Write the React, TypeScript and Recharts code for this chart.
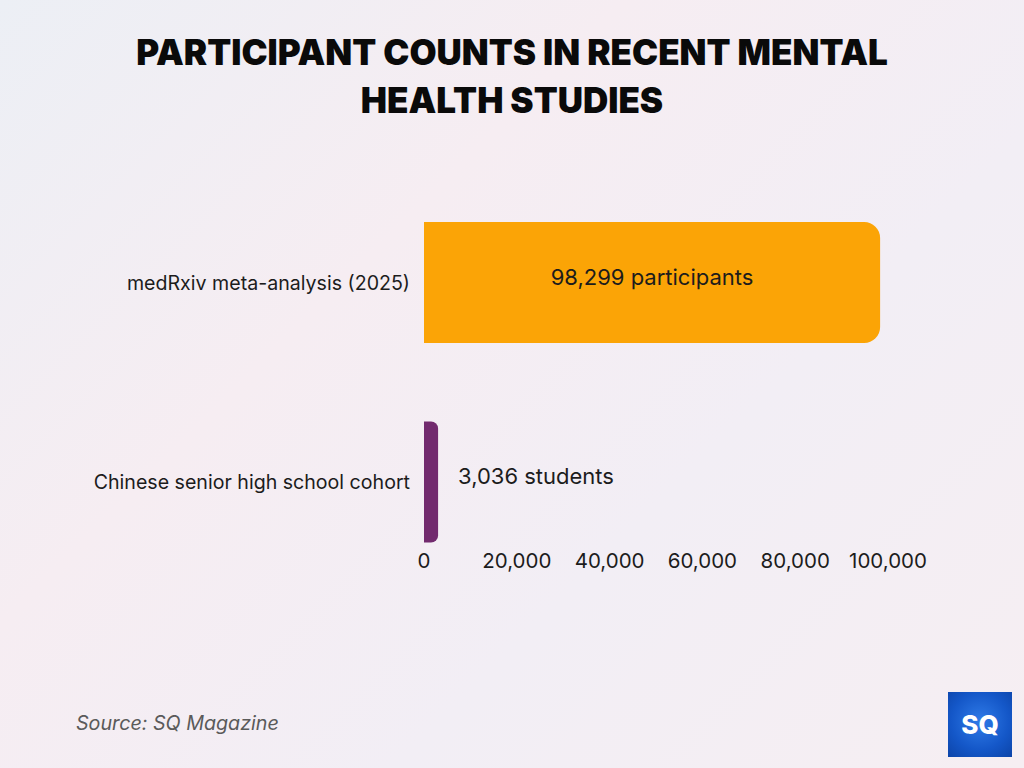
import React from "react"
import { BarChart, Bar, XAxis, YAxis, Cell, LabelList } from "recharts"

const studies = ["medRxiv meta-analysis (2025)", "Chinese senior high school cohort"]
const counts = [98299, 3036]
const units = ["participants", "students"]
const barColors = ["#FBA406", "#722A6E"]
const xTicks = [0, 20000, 40000, 60000, 80000, 100000]

const data = studies.map((name, i) => ({ name, value: counts[i], unit: units[i] }))

const fmt = (v: number) => v.toLocaleString("en-US")

const BODY_FONT = "Inter, 'Open Sans', sans-serif"

const XTick = (props: { x?: number; y?: number; payload?: { value: number } }) => {
  const { x = 0, y = 0, payload } = props
  return (
    <text x={x} y={y - 14} textAnchor="middle" fill="#1c1c1c" fontSize={20.5} fontFamily={BODY_FONT}>
      {fmt(payload?.value ?? 0)}
    </text>
  )
}

const ValueLabel = (props: {
  x?: number
  y?: number
  width?: number
  height?: number
  index?: number
}) => {
  const { x = 0, y = 0, width = 0, height = 0, index = 0 } = props
  const d = data[index]
  const text = `${fmt(d.value)} ${d.unit}`
  // long bars hold their label inside, short ones put it to the right
  const inside = width > 200
  return (
    <text
      x={inside ? x + width / 2 : x + width + 20}
      y={y + height / 2 - 6}
      textAnchor={inside ? "middle" : "start"}
      dominantBaseline="central"
      fill="#1c1c1c"
      fontSize={22}
      fontFamily={BODY_FONT}
    >
      {text}
    </text>
  )
}

export default function App() {
  return (
    <div
      style={{
        position: "absolute",
        top: 0,
        left: 0,
        width: 1024,
        height: 768,
        overflow: "hidden",
        background:
          "linear-gradient(135deg, #eceff5 0%, #f6edf2 35%, #f2eef5 65%, #f6eef2 100%)",
      }}
    >
      <div
        style={{
          position: "absolute",
          top: 28,
          left: 0,
          width: 1024,
          textAlign: "center",
          fontFamily: "Inter, 'Liberation Sans', sans-serif",
          fontWeight: 900,
          fontSize: 35,
          lineHeight: "48px",
          color: "#0a0a0a",
        }}
      >
        PARTICIPANT COUNTS IN RECENT MENTAL
        <br />
        HEALTH STUDIES
      </div>

      <div style={{ position: "absolute", top: 0, left: 0 }}>
        <BarChart
          width={1024}
          height={768}
          layout="vertical"
          data={data}
          margin={{ top: 183, right: 136, bottom: 156, left: 0 }}
        >
          <XAxis
            type="number"
            dataKey="value"
            domain={[0, 100000]}
            ticks={xTicks}
            axisLine={false}
            tickLine={false}
            tickSize={0}
            tickMargin={0}
            height={30}
            tick={<XTick />}
            interval={0}
          />
          <YAxis
            type="category"
            dataKey="name"
            width={424}
            axisLine={false}
            tickLine={false}
            tickSize={0}
            tickMargin={14}
            tick={{ fill: "#1c1c1c", fontSize: 19.6, fontFamily: BODY_FONT }}
          />
          <Bar dataKey="value" barSize={121} radius={[0, 16, 16, 0]} isAnimationActive={false}>
            {data.map((d, i) => (
              <Cell key={d.name} fill={barColors[i]} />
            ))}
            <LabelList dataKey="value" content={<ValueLabel />} />
          </Bar>
        </BarChart>
      </div>

      <div
        style={{
          position: "absolute",
          left: 76,
          top: 711,
          fontFamily: BODY_FONT,
          fontStyle: "italic",
          fontSize: 19.7,
          color: "#5a5a5a",
        }}
      >
        Source: SQ Magazine
      </div>

      <div
        style={{
          position: "absolute",
          left: 948,
          top: 692,
          width: 64,
          height: 65,
          background: "radial-gradient(circle at 50% 45%, #2f7be8 0%, #1457c8 60%, #0c44a8 100%)",
          display: "flex",
          alignItems: "center",
          justifyContent: "center",
          color: "#ffffff",
          fontFamily: "Inter, sans-serif",
          fontWeight: 800,
          fontSize: 26,
          letterSpacing: 0,
        }}
      >
        SQ
      </div>
    </div>
  )
}
